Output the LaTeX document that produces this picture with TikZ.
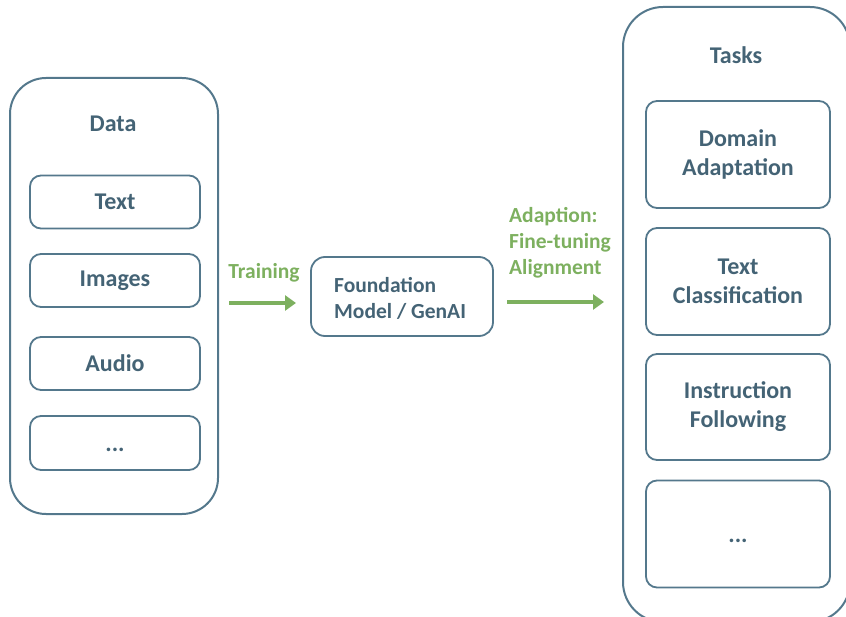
\documentclass[tikz,border=0pt]{standalone}
\usepackage{fontspec}
\setmainfont{Carlito}[BoldFont={Carlito Bold}]
\usetikzlibrary{arrows.meta}
\definecolor{slate}{RGB}{84,120,140}
\definecolor{slatetext}{RGB}{68,99,117}
\definecolor{leaf}{RGB}{125,176,95}
\tikzset{
  x=1pt, y=-1pt,
  outerbox/.style={draw=slate, line width=2pt, rounded corners=36pt, anchor=center, inner sep=0pt},
  innerbox/.style={draw=slate, line width=1.8pt, rounded corners=11pt, align=center,
    font=\fontsize{24}{29}\selectfont\bfseries, text=slatetext, inner sep=0pt},
  dotsbox/.style={innerbox, text height=16pt, text depth=0pt},
  title/.style={font=\fontsize{24}{29}\selectfont\bfseries, text=slatetext},
  glabel/.style={font=\fontsize{21.5}{26}\selectfont\bfseries, text=leaf, align=left},
  garrow/.style={draw=leaf, line width=4.5pt, -{Triangle[length=11pt,width=15pt]}},
}
\begin{document}
\begin{tikzpicture}
\useasboundingbox (0,0) rectangle (846,617);
% Data column
\node[outerbox, minimum width=208pt, minimum height=436pt] (data) at (114,296) {};
\node[title] (datatitle) at (113,124) {Data};
\node[innerbox, minimum width=170pt, minimum height=53pt] (text) at (115,202) {Text};
\node[innerbox, minimum width=170pt, minimum height=53pt] (images) at (115,280.5) {Images};
\node[innerbox, minimum width=170pt, minimum height=53pt] (audio) at (115,363.5) {Audio};
\node[dotsbox, minimum width=170pt, minimum height=54pt] (dmore) at (115,443) {...};
% Foundation model
\node[draw=slate, line width=1.8pt, rounded corners=14pt, minimum width=182pt, minimum height=79pt] (fm) at (402,296.5) {};
\node[anchor=west, align=left, font=\fontsize{21.5}{26}\selectfont\bfseries, text=slatetext, inner sep=0pt] (fmlabel) at (334,298.5) {Foundation\\Model / GenAI};
% Tasks column
\node[outerbox, rounded corners=40pt, minimum width=227pt, minimum height=615pt] (tasks) at (736.5,314.5) {};
\node[title] (taskstitle) at (736,55) {Tasks};
\node[innerbox, minimum width=184pt, minimum height=107pt] (domain) at (738,154.5) {Domain\\Adaptation};
\node[innerbox, minimum width=184pt, minimum height=107pt] (classif) at (738,281.5) {Text\\Classification};
\node[innerbox, minimum width=184pt, minimum height=106pt] (instr) at (738,407) {Instruction\\Following};
\node[dotsbox, minimum width=184pt, minimum height=107pt] (tmore) at (738,534) {...};
% Arrows and their labels
\coordinate (trainstart) at (229,303);
\coordinate (trainend) at (296,303);
\coordinate (adaptstart) at (507,302);
\coordinate (adaptend) at (604,302);
\node[glabel] (training) at (264,273) {Training};
\node[glabel, anchor=west, inner sep=0pt] (adaption) at (509,243) {Adaption:\\Fine-tuning\\Alignment};
\draw[garrow] (trainstart) -- (trainend);
\draw[garrow] (adaptstart) -- (adaptend);
\end{tikzpicture}
\end{document}
